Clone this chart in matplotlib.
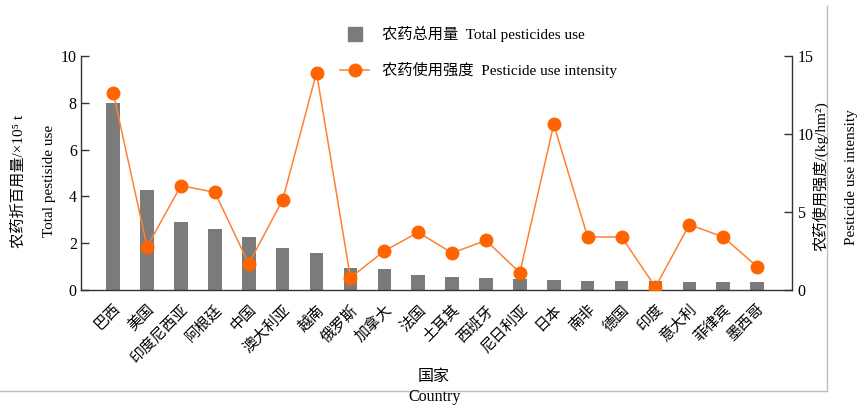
import matplotlib
matplotlib.use("Agg")
import matplotlib.pyplot as plt
from matplotlib.lines import Line2D
import numpy as np

plt.rcParams['font.family'] = ['Liberation Serif', 'Noto Sans CJK SC']

countries = ["巴西", "美国", "印度尼西亚", "阿根廷", "中国", "澳大利亚", "越南", "俄罗斯",
             "加拿大", "法国", "土耳其", "西班牙", "尼日利亚", "日本", "南非", "德国",
             "印度", "意大利", "菲律宾", "墨西哥"]
total_use = [7.98, 4.27, 2.92, 2.61, 2.26, 1.79, 1.60, 0.95, 0.91, 0.63,
             0.56, 0.50, 0.46, 0.41, 0.40, 0.38, 0.37, 0.36, 0.36, 0.34]
intensity = [12.65, 2.78, 6.69, 6.26, 1.69, 5.77, 13.93, 0.79, 2.50, 3.70,
             2.37, 3.18, 1.11, 10.62, 3.40, 3.40, 0.19, 4.19, 3.40, 1.50]
left_ticks = [0, 2, 4, 6, 8, 10]
right_ticks = [0, 5, 10, 15]

W, H = 867, 411
fig = plt.figure(figsize=(W / 100, H / 100), dpi=100)
ax = fig.add_axes([81 / W, 1 - 290 / H, (792 - 81) / W, (290 - 56) / H])
ax2 = ax.twinx()

x = np.arange(len(countries))
bar_color = '#7b7b7b'
line_color = '#ff8033'
mk_color = '#ff6400'
ax.bar(x, total_use, width=0.4, color=bar_color, zorder=2)
ax2.plot(x, intensity, color=line_color, lw=1.1, marker='o', markersize=9,
         markerfacecolor=mk_color, markeredgecolor=mk_color, zorder=3)

ax.set_xlim(-0.95, len(countries) - 1 + 1.03)
ax.set_ylim(0, 10)
ax2.set_ylim(0, 15)
ax.set_yticks(left_ticks)
ax2.set_yticks(right_ticks)

spine_c = '#333333'
for a in (ax, ax2):
    a.spines['top'].set_visible(False)
    for s in a.spines.values():
        s.set_color(spine_c)
        s.set_linewidth(1.0)
ax.spines['right'].set_visible(False)
ax2.spines['left'].set_visible(False)
ax2.spines['bottom'].set_visible(False)

ax.tick_params(axis='y', direction='in', length=6, width=1, color=spine_c,
               labelsize=11.5, pad=3)
ax2.tick_params(axis='y', direction='in', length=6, width=1, color=spine_c,
                labelsize=11.5, pad=4)
ax.set_xticks(x)
ax.set_xticklabels(countries, rotation=45, ha='right', rotation_mode='anchor',
                   fontsize=10.8)
ax.tick_params(axis='x', length=0, pad=9)

# axis titles
fig.text(19 / W, 1 - 181 / H, "农药折百用量/×10⁵ t", rotation=90, ha='center',
         va='center', fontsize=11)
fig.text(50 / W, 1 - 181 / H, "Total pestiside use", rotation=90, ha='center',
         va='center', fontsize=11)
fig.text(820 / W, 1 - 176 / H, "农药使用强度/(kg/hm²)", rotation=90, ha='center',
         va='center', fontsize=11)
fig.text(851 / W, 1 - 177 / H, "Pesticide use intensity", rotation=90, ha='center',
         va='center', fontsize=11)
fig.text(434 / W, 1 - 377 / H, "国家", ha='center', va='center', fontsize=11.5)
fig.text(435 / W, 1 - 397 / H, "Country", ha='center', va='center', fontsize=11.5)

# legend
h1 = Line2D([], [], linestyle='none', marker='s', markersize=10,
            markerfacecolor=bar_color, markeredgecolor=bar_color)
h2 = Line2D([], [], color=line_color, lw=1.1, marker='o', markersize=9,
            markerfacecolor=mk_color, markeredgecolor=mk_color)
fig.legend([h1, h2], ["农药总用量  Total pesticides use", "农药使用强度  Pesticide use intensity"],
           loc='upper left', bbox_to_anchor=(340 / W, 1 - 26 / H), frameon=False,
           borderpad=0, borderaxespad=0, handlelength=1.9, handletextpad=0.85,
           labelspacing=1.3, fontsize=11)

# frame lines
fig.add_artist(Line2D([826.5 / W, 826.5 / W], [1 - 6 / H, 1 - 391 / H],
                      color='#bdbdbd', lw=1.0, transform=fig.transFigure))
fig.add_artist(Line2D([0, 826.5 / W], [1 - 391 / H, 1 - 391 / H],
                      color='#bdbdbd', lw=1.0, transform=fig.transFigure))

fig.savefig("out.png", dpi=100)
